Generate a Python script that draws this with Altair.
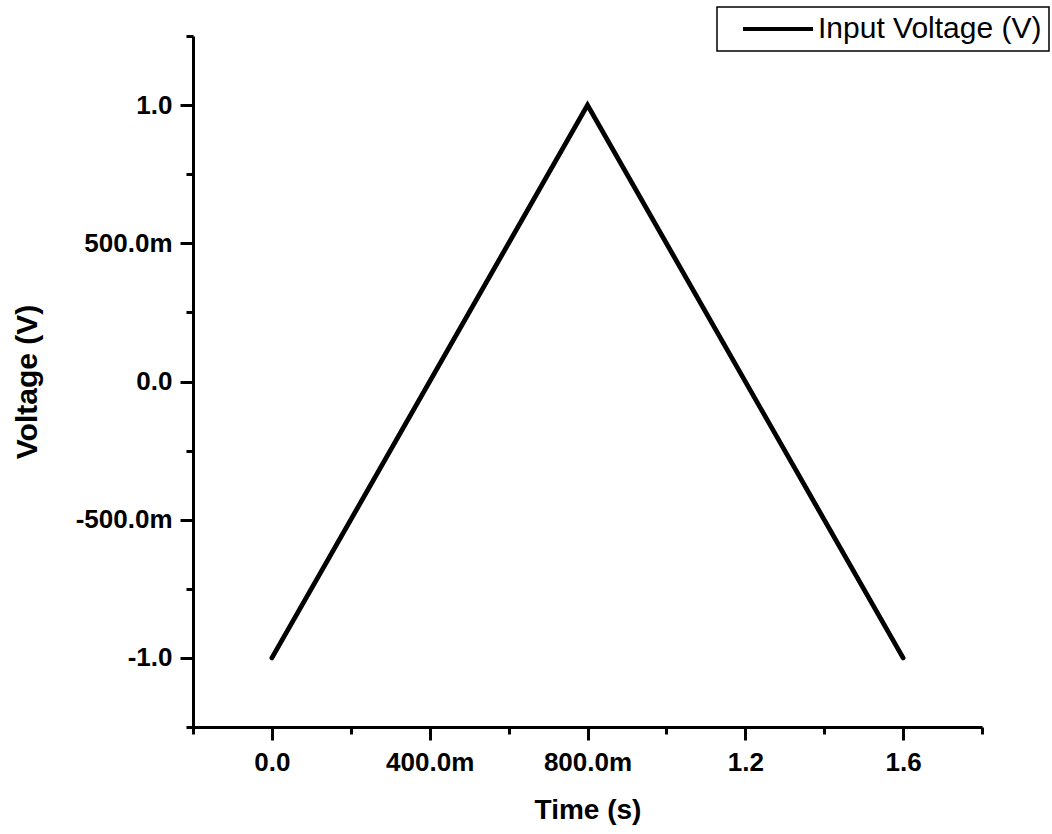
import altair as alt
import pandas as pd

# Data
time_s = [0.0, 0.8, 1.6]
voltage_v = [-1.0, 1.0, -1.0]
series_name = "Input Voltage (V)"
x_ticks = [-0.2, 0.0, 0.2, 0.4, 0.6, 0.8, 1.0, 1.2, 1.4, 1.6, 1.8]
y_ticks = [-1.25, -1.0, -0.75, -0.5, -0.25, 0.0, 0.25, 0.5, 0.75, 1.0, 1.25]

df = pd.DataFrame({"t": time_s, "v": voltage_v, "series": [series_name] * len(time_s)})

x_major = "abs(datum.value*2.5 - round(datum.value*2.5)) < 1e-6"
y_major = "abs(datum.value*2 - round(datum.value*2)) < 1e-6"


def label_expr(major):
    return (
        f"!({major}) ? '' : (abs(datum.value) < 1e-9 ? '0.0' : "
        "((datum.value < 0 ? '-' : '') + (abs(datum.value) < 0.999 ? "
        "format(abs(datum.value)*1000, '.1f') + 'm' : format(abs(datum.value), '.1f'))))"
    )


font = "Liberation Sans"

line = alt.Chart(df).mark_line(strokeWidth=4.8, strokeJoin="miter", strokeCap="round").encode(
    x=alt.X(
        "t:Q",
        title="Time (s)",
        scale=alt.Scale(domain=[-0.2, 1.8], nice=False, zero=False),
        axis=alt.Axis(
            values=x_ticks,
            labelExpr=label_expr(x_major),
            tickSize={"condition": {"test": x_major, "value": 13}, "value": 7},
            labelFontSize=26,
            labelPadding=9,
            titlePadding=21,
            titleFontSize=28,
        ),
    ),
    y=alt.Y(
        "v:Q",
        title="Voltage (V)",
        scale=alt.Scale(domain=[-1.25, 1.25], nice=False, zero=False),
        axis=alt.Axis(
            values=y_ticks,
            labelExpr=label_expr(y_major),
            tickSize={"condition": {"test": y_major, "value": 13}, "value": 7},
            labelFontSize=26,
            labelPadding=8,
            titlePadding=33,
            titleFontSize=30,
        ),
    ),
    color=alt.Color(
        "series:N",
        scale=alt.Scale(domain=[series_name], range=["black"]),
        legend=alt.Legend(title=None),
    ),
)

chart = (
    line.properties(
        width=789,
        height=691,
        autosize=alt.AutoSizeParams(type="none"),
        padding={"left": 193, "top": 36, "right": 70, "bottom": 107},
        background="white",
    )
    .configure_view(stroke=None)
    .configure_axis(
        grid=False,
        domainColor="black",
        domainWidth=3,
        tickColor="black",
        tickWidth=3,
        labelFont=font,
        labelFontWeight="bold",
        labelColor="black",
        titleFont=font,
        titleFontWeight="bold",
        titleColor="black",
    )
    .configure_legend(
        orient="none",
        legendX=524,
        legendY=-29,
        strokeColor="black",
        strokeWidth=1.5,
        fillColor="white",
        padding=7,
        symbolType="M-1,0H6",
        symbolSize=400,
        symbolStrokeWidth=4,
        symbolOffset=14,
        labelFont=font,
        labelFontSize=30,
        labelColor="black",
        labelOffset=50,
        labelLimit=500,
    )
)

chart.save("out.html", embed_options={"renderer": "svg", "actions": False})
